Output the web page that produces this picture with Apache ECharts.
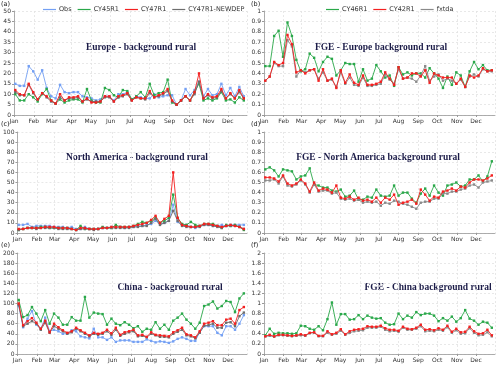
<!DOCTYPE html>
<html>
<head>
<meta charset="utf-8">
<script src="https://cdn.jsdelivr.net/npm/echarts@6/dist/echarts.min.js"></script>
<style>
  html, body { margin: 0; padding: 0; background: #fff; }
  #main { width: 500px; height: 368px; }
</style>
</head>
<body>
<div id="main"></div>
<script>
var monthNames = ['Jan', 'Feb', 'Mar', 'Apr', 'May', 'Jun', 'Jul', 'Aug', 'Sep', 'Oct', 'Nov', 'Dec'];

// (a) Europe - background rural
var euObs = [15, 14, 14, 23.5, 21, 17, 21.5, 13, 9, 8, 14.5, 11, 10.5, 11, 11, 9, 8.5, 8, 7, 7.5, 9, 9, 7, 10, 10, 11, 7.5, 9, 8.5, 8, 8, 10, 8.5, 9, 9.5, 9.5, 5, 7, 12.5, 9.5, 12, 16, 9, 12.5, 9.5, 10, 15, 9.5, 13, 9, 13.5, 9];
var eu45 = [10, 7, 7, 10, 8.5, 6.5, 10, 12.5, 7, 5.5, 7.5, 6, 7, 7.5, 7.5, 6, 12.5, 7, 6, 6, 13, 12, 9.5, 8.5, 12, 11.5, 7.5, 9, 11, 8.5, 15, 9.5, 10.5, 11, 17, 6, 5, 7, 9, 7, 11, 15, 7, 8, 7, 8, 11, 7, 7.5, 6, 8.5, 7];
var eu47 = [12, 10, 9.5, 15, 11, 7.5, 10.5, 9, 7, 5.5, 10, 7, 8.5, 8.5, 9, 6.5, 8, 6, 6, 6.5, 9, 9, 6.5, 9, 9.5, 10.5, 7, 8.5, 8, 8, 11.5, 8.5, 9.5, 10.5, 12.5, 7, 5, 7, 9, 7, 11, 20, 8, 10, 8.5, 9, 12.5, 8, 10.5, 8, 12, 8];
var euNew = [11, 9.5, 9.5, 14.5, 10.5, 7.5, 10.5, 8.5, 6.5, 5.5, 8.5, 7, 8, 8, 8.5, 6.5, 7.5, 6.5, 6.5, 6.5, 8.5, 8.5, 6.5, 8.5, 9, 10, 7, 8.5, 8, 7.5, 10.5, 8.5, 9, 10, 11.5, 6.5, 5, 7, 9, 7, 10, 16, 8, 9.5, 8, 8.5, 11.5, 8, 10, 8, 11, 8];

// (b) FGE - Europe background rural
var fgeEu46 = [0.47, 0.47, 0.76, 0.81, 0.56, 0.89, 0.76, 0.53, 0.42, 0.44, 0.59, 0.55, 0.42, 0.51, 0.56, 0.54, 0.38, 0.43, 0.50, 0.49, 0.49, 0.32, 0.44, 0.33, 0.35, 0.48, 0.42, 0.36, 0.38, 0.28, 0.46, 0.39, 0.41, 0.38, 0.40, 0.40, 0.36, 0.45, 0.40, 0.35, 0.26, 0.37, 0.29, 0.41, 0.38, 0.27, 0.42, 0.51, 0.44, 0.48, 0.43, 0.43];
var fgeEu42 = [0.33, 0.37, 0.51, 0.48, 0.50, 0.77, 0.68, 0.41, 0.43, 0.40, 0.43, 0.44, 0.33, 0.44, 0.33, 0.35, 0.26, 0.43, 0.31, 0.39, 0.31, 0.29, 0.38, 0.29, 0.29, 0.30, 0.32, 0.41, 0.35, 0.29, 0.46, 0.35, 0.36, 0.40, 0.40, 0.37, 0.43, 0.31, 0.40, 0.38, 0.36, 0.36, 0.36, 0.30, 0.35, 0.27, 0.38, 0.36, 0.38, 0.45, 0.42, 0.43];
var fgeEuFx = [0.33, 0.37, 0.50, 0.47, 0.47, 0.72, 0.66, 0.37, 0.43, 0.41, 0.43, 0.44, 0.35, 0.41, 0.33, 0.34, 0.27, 0.41, 0.30, 0.36, 0.29, 0.28, 0.36, 0.28, 0.28, 0.29, 0.30, 0.39, 0.34, 0.30, 0.44, 0.35, 0.36, 0.35, 0.32, 0.38, 0.47, 0.33, 0.37, 0.39, 0.33, 0.35, 0.33, 0.30, 0.34, 0.27, 0.37, 0.39, 0.37, 0.44, 0.42, 0.42];

// (c) North America - background rural
var naObs = [8, 8, 9, 6, 7, 7, 7, 7, 6, 6, 6, 5, 6, 4, 4, 6, 4, 4, 4, 5, 5, 6, 6, 6, 5, 6, 6, 7, 7, 8, 9, 12, 9, 10, 12, 28, 11, 8, 8, 6, 5, 7, 8, 8, 7, 7, 8, 7, 8, 8, 8, 8];
var na45 = [3, 4, 5, 5, 5, 6, 6, 5, 5, 5, 5, 5, 4, 3, 7, 4, 4, 4, 4, 6, 5, 5, 8, 6, 6, 6, 7, 9, 11, 10, 12, 15, 10, 12, 15, 38, 15, 9, 8, 11, 8, 7, 9, 9, 9, 7, 5, 8, 7, 8, 6, 3];
var na47 = [4, 4, 5, 5, 5, 5, 6, 6, 6, 5, 5, 5, 4, 3, 5, 5, 4, 4, 4, 5, 5, 6, 6, 6, 6, 6, 7, 8, 9, 10, 13, 17, 10, 14, 17, 60, 15, 8, 7, 6, 6, 7, 9, 9, 8, 7, 6, 7, 8, 7, 6, 4];
var naNew = [3, 4, 5, 5, 4, 5, 5, 5, 5, 4, 4, 4, 4, 3, 4, 4, 4, 3, 4, 5, 5, 5, 5, 5, 5, 5, 6, 6, 7, 7, 10, 14, 8, 10, 12, 22, 12, 7, 6, 6, 6, 6, 8, 8, 7, 6, 5, 7, 7, 7, 6, 4];

// (d) FGE - North America background rural
var fgeNa46 = [0.63, 0.65, 0.62, 0.56, 0.63, 0.62, 0.61, 0.53, 0.56, 0.57, 0.64, 0.48, 0.47, 0.45, 0.45, 0.42, 0.41, 0.43, 0.36, 0.37, 0.42, 0.33, 0.33, 0.36, 0.35, 0.43, 0.37, 0.36, 0.37, 0.47, 0.37, 0.40, 0.40, 0.34, 0.30, 0.39, 0.44, 0.37, 0.47, 0.40, 0.37, 0.47, 0.48, 0.50, 0.46, 0.47, 0.53, 0.53, 0.57, 0.51, 0.56, 0.71];
var fgeNa42 = [0.55, 0.55, 0.54, 0.51, 0.57, 0.49, 0.47, 0.49, 0.53, 0.49, 0.41, 0.50, 0.42, 0.44, 0.43, 0.40, 0.47, 0.35, 0.34, 0.36, 0.33, 0.35, 0.32, 0.33, 0.31, 0.35, 0.30, 0.35, 0.33, 0.38, 0.28, 0.30, 0.31, 0.33, 0.29, 0.43, 0.38, 0.32, 0.36, 0.35, 0.41, 0.42, 0.44, 0.42, 0.46, 0.45, 0.50, 0.53, 0.53, 0.52, 0.54, 0.57];
var fgeNaFx = [0.52, 0.52, 0.53, 0.49, 0.56, 0.47, 0.46, 0.48, 0.52, 0.48, 0.40, 0.48, 0.41, 0.42, 0.42, 0.39, 0.40, 0.34, 0.33, 0.34, 0.32, 0.33, 0.30, 0.31, 0.30, 0.31, 0.27, 0.30, 0.29, 0.32, 0.31, 0.29, 0.28, 0.26, 0.24, 0.30, 0.31, 0.31, 0.34, 0.34, 0.39, 0.39, 0.41, 0.41, 0.43, 0.44, 0.47, 0.48, 0.45, 0.50, 0.51, 0.52];

// (e) China - background rural
var cnObs = [95, 53, 70, 85, 58, 50, 72, 45, 48, 45, 40, 40, 47, 45, 35, 33, 31, 50, 33, 33, 28, 33, 24, 27, 27, 27, 24, 24, 24, 29, 26, 23, 25, 24, 22, 25, 30, 33, 30, 26, 26, 43, 55, 55, 55, 42, 37, 55, 55, 48, 60, 77];
var cn45 = [107, 73, 77, 93, 80, 65, 87, 60, 80, 72, 58, 58, 73, 66, 66, 113, 72, 82, 80, 79, 58, 70, 60, 57, 63, 58, 51, 55, 44, 50, 48, 63, 50, 58, 48, 66, 72, 80, 68, 60, 50, 62, 95, 98, 104, 90, 95, 105, 103, 83, 110, 120];
var cn47 = [100, 57, 65, 71, 62, 50, 66, 43, 60, 53, 47, 42, 45, 52, 47, 42, 37, 42, 40, 42, 48, 41, 52, 38, 43, 45, 48, 37, 38, 34, 43, 38, 37, 36, 35, 43, 47, 52, 39, 37, 33, 45, 60, 62, 65, 57, 57, 68, 70, 60, 87, 93];
var cnNew = [97, 55, 60, 65, 60, 48, 62, 42, 55, 50, 45, 40, 43, 50, 45, 40, 35, 40, 38, 40, 45, 38, 48, 36, 40, 43, 45, 35, 36, 33, 40, 37, 34, 34, 33, 40, 44, 48, 37, 35, 31, 42, 56, 57, 60, 52, 52, 62, 63, 55, 75, 82];

// (f) FGE - China background rural
var fgeCn46 = [0.37, 0.50, 0.40, 0.42, 0.41, 0.41, 0.40, 0.41, 0.56, 0.55, 0.50, 0.48, 0.55, 0.47, 0.69, 1.02, 0.58, 0.79, 0.79, 0.68, 0.69, 0.77, 0.69, 0.76, 0.72, 0.70, 0.71, 0.62, 0.58, 0.59, 0.80, 0.69, 0.76, 0.72, 0.83, 0.77, 0.80, 0.80, 0.76, 0.65, 0.71, 0.66, 0.74, 0.64, 0.71, 0.87, 0.70, 0.66, 0.58, 0.64, 0.62, 0.52];
var fgeCn42 = [0.35, 0.38, 0.35, 0.38, 0.38, 0.37, 0.36, 0.37, 0.39, 0.37, 0.42, 0.43, 0.36, 0.36, 0.45, 0.39, 0.42, 0.49, 0.39, 0.45, 0.48, 0.49, 0.50, 0.55, 0.54, 0.54, 0.56, 0.51, 0.48, 0.48, 0.46, 0.54, 0.50, 0.49, 0.52, 0.58, 0.48, 0.49, 0.47, 0.51, 0.48, 0.56, 0.44, 0.50, 0.43, 0.44, 0.54, 0.45, 0.40, 0.41, 0.48, 0.37];
var fgeCnFx = [0.35, 0.36, 0.34, 0.37, 0.37, 0.36, 0.35, 0.36, 0.37, 0.36, 0.41, 0.42, 0.35, 0.35, 0.42, 0.38, 0.40, 0.46, 0.38, 0.42, 0.45, 0.46, 0.47, 0.52, 0.52, 0.52, 0.54, 0.48, 0.45, 0.46, 0.44, 0.52, 0.48, 0.48, 0.50, 0.55, 0.45, 0.46, 0.45, 0.48, 0.46, 0.53, 0.42, 0.47, 0.40, 0.41, 0.51, 0.42, 0.37, 0.38, 0.43, 0.35];

// one point per week, first one on 3 Jan
var weekDates = [];
for (var i = 0; i < 52; i++) {
  weekDates.push(new Date(2018, 0, 3 + 7 * i).getTime());
}

var colObs = '#74a0f4';
var colGreen = '#2aa84a';
var colRed = '#f32020';
var colGray = '#6e6e6e';
var colGrayR = '#8a8a8a';

var panels = [
  { left: 14, top: 11, height: 104, max: 50, step: 5, title: 'Europe - background rural', tx: 141, ty: 48, tag: '(a)', lx: 1, ly: 1 },
  { left: 264, top: 11, height: 104, max: 1, step: 0.1, title: 'FGE - Europe background rural', tx: 381, ty: 48, tag: '(b)', lx: 251, ly: 1 },
  { left: 14, top: 132, height: 101, max: 100, step: 10, title: 'North America - background rural', tx: 137, ty: 158, tag: '(c)', lx: 1, ly: 121 },
  { left: 264, top: 132, height: 101, max: 1, step: 0.1, title: 'FGE - North America background rural', tx: 378, ty: 158, tag: '(d)', lx: 251, ly: 121 },
  { left: 17, top: 253, height: 101, max: 200, step: 20, title: 'China - background rural', tx: 170, ty: 288, tag: '(e)', lx: 1, ly: 242 },
  { left: 264, top: 253, height: 101, max: 2, step: 0.2, title: 'FGE - China background rural', tx: 428, ty: 288, tag: '(f)', lx: 251, ly: 242 }
];

function line(name, color, values, idx, z) {
  return {
    type: 'line',
    name: name,
    xAxisIndex: idx,
    yAxisIndex: idx,
    data: values.map(function (v, i) { return [weekDates[i], v]; }),
    symbol: 'rect',
    symbolSize: 2.4,
    showSymbol: true,
    z: z,
    lineStyle: { width: 0.9, color: color },
    itemStyle: { color: color },
    emphasis: { disabled: true }
  };
}

var grids = [], xAxes = [], yAxes = [], graphics = [];
panels.forEach(function (p, k) {
  var right = k % 2 === 0 ? 253 : 5;
  grids.push({ left: p.left, top: p.top, height: p.height, right: right });
  xAxes.push({
    type: 'time',
    gridIndex: k,
    min: new Date(2018, 0, 1).getTime(),
    max: new Date(2018, 11, 31).getTime(),
    splitNumber: 12,
    minInterval: 28 * 86400000,
    maxInterval: 31 * 86400000,
    axisLine: { lineStyle: { color: '#999', width: 0.8 } },
    axisTick: { show: true, length: 2, lineStyle: { color: '#999' } },
    axisLabel: {
      fontSize: 6,
      color: '#333',
      margin: 3,
      hideOverlap: false,
      formatter: function (v) { return monthNames[new Date(v).getMonth()]; }
    },
    splitLine: { show: true, lineStyle: { color: '#e2e2e2', type: [2, 2], width: 0.8 } }
  });
  yAxes.push({
    type: 'value',
    gridIndex: k,
    min: 0,
    max: p.max,
    interval: p.step,
    axisLine: { show: true, lineStyle: { color: '#999', width: 0.8 } },
    axisTick: { show: true, length: 2, lineStyle: { color: '#999' } },
    axisLabel: { fontSize: 6, color: '#333', margin: 3 },
    splitLine: { show: true, lineStyle: { color: '#e2e2e2', type: [2, 2], width: 0.8 } }
  });
  graphics.push({
    type: 'text', left: p.lx, top: p.ly,
    style: { text: p.tag, fontSize: 6.5, fill: '#222', fontFamily: 'DejaVu Sans' }
  });
  graphics.push({
    type: 'text', x: p.tx, y: p.ty,
    style: {
      text: p.title, fontSize: 9.5, fontWeight: 'bold', fontFamily: 'Liberation Serif',
      fill: '#1c1c48', align: 'center', verticalAlign: 'middle'
    }
  });
});

var series = [
  line('Obs', colObs, euObs, 0, 2), line('CY45R1', colGreen, eu45, 0, 3), line('CY47R1-NEWDEP', colGray, euNew, 0, 4), line('CY47R1', colRed, eu47, 0, 5),
  line('CY46R1', colGreen, fgeEu46, 1, 3), line('fxtda', colGrayR, fgeEuFx, 1, 4), line('CY42R1', colRed, fgeEu42, 1, 5),
  line('Obs', colObs, naObs, 2, 2), line('CY45R1', colGreen, na45, 2, 3), line('CY47R1-NEWDEP', colGray, naNew, 2, 4), line('CY47R1', colRed, na47, 2, 5),
  line('CY46R1', colGreen, fgeNa46, 3, 3), line('fxtda', colGrayR, fgeNaFx, 3, 4), line('CY42R1', colRed, fgeNa42, 3, 5),
  line('Obs', colObs, cnObs, 4, 2), line('CY45R1', colGreen, cn45, 4, 3), line('CY47R1-NEWDEP', colGray, cnNew, 4, 4), line('CY47R1', colRed, cn47, 4, 5),
  line('CY46R1', colGreen, fgeCn46, 5, 3), line('fxtda', colGrayR, fgeCnFx, 5, 4), line('CY42R1', colRed, fgeCn42, 5, 5)
];

var legendBase = {
  top: 1,
  icon: 'rect',
  itemWidth: 13,
  itemHeight: 1.2,
  itemGap: 6,
  textStyle: { fontSize: 6.5, color: '#333', padding: [0, 0, 0, -2] },
  selectedMode: false
};

var chart = echarts.init(document.getElementById('main'), null, { renderer: 'canvas' });
chart.setOption({
  animation: false,
  backgroundColor: '#fff',
  textStyle: { fontFamily: 'DejaVu Sans' },
  legend: [
    Object.assign({}, legendBase, { left: 38, data: ['Obs', 'CY45R1', 'CY47R1', 'CY47R1-NEWDEP'] }),
    Object.assign({}, legendBase, { left: 321, data: ['CY46R1', 'CY42R1', 'fxtda'] })
  ],
  grid: grids,
  xAxis: xAxes,
  yAxis: yAxes,
  series: series,
  graphic: graphics
});
</script>
</body>
</html>
